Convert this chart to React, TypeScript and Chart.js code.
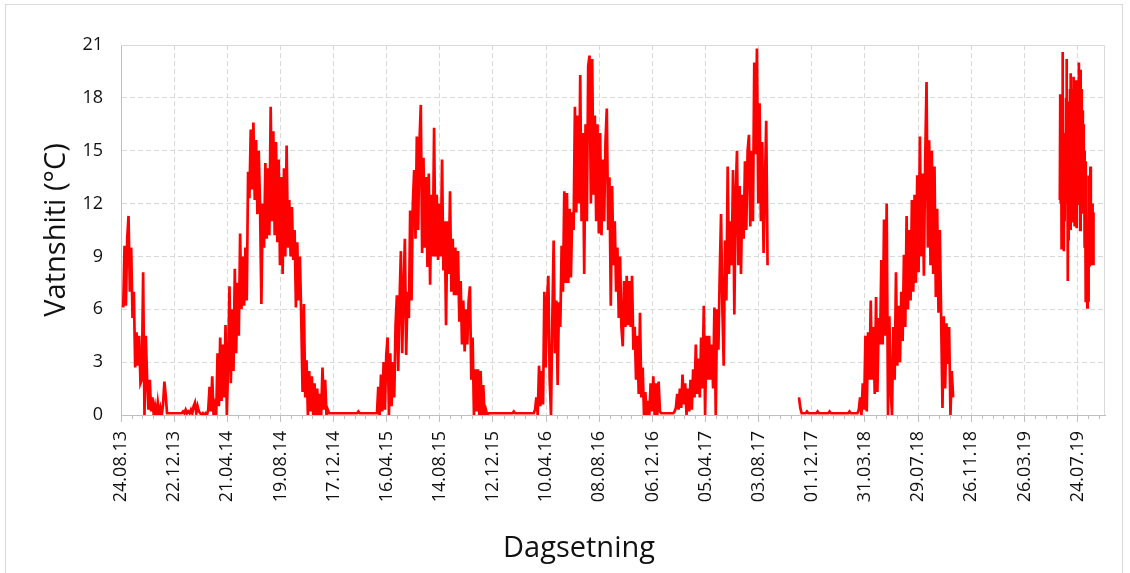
import React, { useEffect, useRef } from "react";
import { Chart, registerables } from "chart.js";

Chart.register(...registerables);

// ---- axis / text ----
const xTickLabels = [
  "24.08.13", "22.12.13", "21.04.14", "19.08.14", "17.12.14", "16.04.15", "14.08.15",
  "12.12.15", "10.04.16", "08.08.16", "06.12.16", "05.04.17", "03.08.17", "01.12.17",
  "31.03.18", "29.07.18", "26.11.18", "26.03.19", "24.07.19",
];
const X_TITLE = "Dagsetning";
const Y_TITLE = "Vatnshiti (°C)";
const AXIS_START = "2013-08-24";
const AXIS_END = "2019-09-24";
const MAJOR_STEP_DAYS = 120;
const MINOR_STEP_DAYS = 24;
const Y_MIN = 0;
const Y_MAX = 21;
const Y_STEP = 3;

// ---- measured series (°C), sampled every segmentSteps[i] days from segmentStarts[i] ----
const temps2013_2014 = [
  6.1, 9.6, 6.2, 10.0, 11.3, 7.0, 9.5, 5.5, 7.0, 2.7,
  4.7, 2.8, 4.5, 1.8, 2.0, 8.1, 0.0, 4.5, 2.0, 0.3,
  2.0, 0.2, 1.0, 0.0, 0.5, 0.0, 0.7, 0.0, 0.4, 0.0,
  0.6, 1.9, 1.1, 0.1, 0.1, 0.1, 0.1, 0.1, 0.1, 0.1,
  0.1, 0.1, 0.1, 0.1, 0.1, 0.2, 0.1, 0.3, 0.1, 0.2,
  0.1, 0.3, 0.1, 0.5, 0.7, 0.1, 0.5, 0.2, 0.1, 0.0,
  0.1, 0.0, 0.1, 0.0, 0.3, 1.6, 0.2, 2.2, 0.0, 0.5,
  0.0, 3.5, 0.5, 4.4, 0.8, 4.0, 1.0, 5.1, 0.0, 3.0,
  7.3, 1.8, 6.0, 2.5, 8.3, 3.5, 7.5, 4.5, 10.3, 6.0,
  9.0, 6.2, 9.5, 6.5, 13.8, 12.3, 16.2, 12.8, 16.6, 12.2,
  15.6, 11.4, 15.0, 11.8, 6.3, 12.0, 9.5, 14.3, 10.0, 14.0,
  10.2, 17.5, 11.0, 16.1, 10.2, 15.5, 9.8, 14.5, 8.5, 13.5,
  8.0, 14.0, 9.0, 15.3, 9.5, 12.2, 9.0, 11.8, 8.8, 10.5,
  6.1, 9.8, 6.5, 9.0, 5.5, 1.3, 6.3, 1.0, 3.1, 0.0,
  2.5, 0.2, 2.2, 0.0, 1.8, 0.0, 1.5, 0.0, 1.2, 0.0,
  2.7, 0.3, 2.0, 0.0, 0.3, 0.1,
];
const temps2015 = [
  0.1, 0.1, 0.1, 0.1, 0.1, 0.1, 0.1, 0.1, 0.1, 0.1,
  0.1, 0.1, 0.1, 0.1, 0.1, 0.1, 0.1, 0.1, 0.1, 0.1,
  0.1, 0.2, 0.1, 0.1, 0.1, 0.1, 0.1, 0.1, 0.1, 0.1,
  0.1, 0.1, 0.1, 0.1, 0.1, 0.1, 1.6, 0.0, 2.3, 0.2,
  3.0, 0.3, 3.4, 4.4, 0.0, 3.5, 0.5, 3.0, 1.0, 5.1,
  6.8, 2.5, 6.5, 9.3, 3.5, 7.0, 10.0, 3.4, 7.0, 5.5,
  11.6, 6.5, 12.0, 13.9, 10.0, 15.8, 10.5, 15.5, 17.6, 9.2,
  14.6, 9.5, 13.5, 8.4, 13.7, 7.4, 12.5, 9.0, 16.3, 9.0,
  12.5, 8.8, 12.0, 9.0, 14.5, 8.2, 11.0, 5.1, 11.0, 8.0,
  12.7, 7.0, 10.0, 6.8, 9.5, 6.8, 9.3, 5.3, 7.6, 4.0,
  6.5, 3.6, 6.0, 4.0, 6.5, 7.3, 2.0, 4.4, 0.0, 2.6,
  0.2, 2.6, 0.0, 2.5, 0.0, 1.7, 0.0, 0.3, 0.0, 0.1,
];
const temps2016 = [
  0.1, 0.1, 0.1, 0.1, 0.1, 0.1, 0.1, 0.1, 0.1, 0.1,
  0.1, 0.1, 0.1, 0.1, 0.1, 0.1, 0.1, 0.1, 0.2, 0.1,
  0.1, 0.1, 0.1, 0.1, 0.1, 0.1, 0.1, 0.1, 0.1, 0.1,
  0.1, 0.1, 0.1, 0.1, 0.3, 1.0, 0.0, 2.8, 0.5, 2.5,
  0.6, 7.0, 2.7, 6.5, 7.9, 2.0, 0.0, 5.5, 9.9, 3.5,
  6.5, 1.7, 6.4, 5.0, 9.6, 7.0, 12.7, 7.5, 12.6, 7.5,
  11.7, 7.8, 11.5, 10.5, 17.5, 11.5, 17.0, 12.0, 19.3, 11.0,
  16.0, 8.0, 16.5, 11.0, 19.8, 20.4, 12.0, 20.2, 12.5, 17.0,
  11.0, 16.5, 10.3, 16.0, 10.2, 14.5, 11.0, 15.5, 17.4, 10.5,
  13.5, 6.2, 13.0, 8.5, 11.0, 7.0, 9.5, 5.5, 9.0, 5.0,
  3.9, 7.6, 5.0, 7.9, 5.1, 7.6, 5.0, 7.9, 3.7, 5.0,
  2.0, 4.5, 1.2, 5.8, 1.0, 2.7, 0.0, 1.3, 0.0, 0.8,
  0.0, 1.8, 0.2, 2.2, 0.0, 1.8, 0.0, 1.9, 0.2, 0.1,
  0.1, 0.1, 0.1,
];
const temps2017 = [
  0.1, 0.1, 0.1, 0.1, 0.1, 0.1, 0.2, 0.4, 1.2, 0.3,
  1.5, 0.4, 2.3, 0.6, 1.8, 0.0, 1.5, 0.2, 2.0, 0.3,
  2.6, 1.0, 4.0, 1.2, 3.2, 1.0, 4.4, 1.5, 6.2, 0.0,
  4.5, 2.0, 4.5, 2.0, 4.0, 1.5, 6.1, 0.0, 6.0, 3.7,
  8.0, 11.4, 6.0, 2.8, 9.9, 6.5, 14.1, 8.0, 11.0, 8.5,
  13.9, 5.7, 12.5, 15.0, 8.5, 13.0, 8.0, 12.5, 10.0, 14.4,
  10.5, 15.0, 15.9, 10.7, 15.0, 11.0, 20.0, 14.8, 20.8, 12.0,
  17.7, 11.0, 15.5, 9.2, 13.0, 16.7, 8.5,
];
const temps2018 = [
  1.0, 0.4, 0.1, 0.1, 0.1, 0.1, 0.2, 0.1, 0.1, 0.1,
  0.1, 0.1, 0.1, 0.1, 0.2, 0.1, 0.1, 0.1, 0.1, 0.1,
  0.1, 0.1, 0.1, 0.2, 0.1, 0.1, 0.1, 0.1, 0.1, 0.1,
  0.1, 0.1, 0.1, 0.1, 0.1, 0.1, 0.1, 0.1, 0.2, 0.1,
  0.1, 0.1, 0.1, 0.1, 0.1, 0.3, 1.0, 0.0, 1.8, 0.3,
  4.5, 0.2, 4.7, 2.0, 6.5, 2.0, 5.0, 1.2, 6.7, 1.3,
  5.5, 4.0, 8.8, 4.0, 11.1, 4.5, 12.0, 0.0, 5.6, 1.5,
  0.0, 5.0, 2.0, 8.1, 2.8, 6.2, 3.0, 7.0, 4.2, 9.1,
  5.0, 11.3, 6.0, 10.5, 6.5, 12.2, 7.0, 12.5, 7.5, 13.6,
  8.1, 15.8, 9.0, 13.7, 7.9, 14.5, 18.9, 9.5, 15.6, 8.5,
  15.0, 8.0, 14.1, 6.7, 11.7, 5.8, 10.5, 5.5, 0.4, 5.6,
  1.5, 5.2, 2.9, 5.0, 0.0, 2.5, 1.0,
];
const temps2019 = [
  12.2, 18.2, 12.0, 17.5, 9.4, 16.0, 20.6, 9.5, 15.0, 9.3,
  14.5, 11.0, 16.0, 12.0, 18.0, 20.2, 12.0, 17.0, 7.6, 16.0,
  9.9, 17.8, 11.0, 18.5, 10.5, 19.4, 11.0, 18.0, 12.5, 18.5,
  13.0, 19.2, 11.9, 17.5, 10.7, 19.0, 11.5, 18.0, 10.6, 18.5,
  12.5, 19.0, 12.0, 20.0, 13.0, 18.0, 10.5, 19.6, 11.5, 18.5,
  12.0, 17.3, 12.5, 16.5, 12.0, 15.0, 9.5, 14.4, 6.4, 12.0,
  6.9, 10.5, 6.1, 9.0, 6.5, 13.6, 8.5, 12.5, 8.8, 14.1,
  8.5, 12.0, 9.0, 12.0, 8.5, 11.5, 8.5,
];
const segmentValues = [temps2013_2014, temps2015, temps2016, temps2017, temps2018, temps2019];
const segmentStarts = ["2013-08-29", "2014-12-10", "2015-12-05", "2017-01-07", "2017-11-02", "2019-06-14"];
const segmentSteps = [3, 3, 3, 3, 3, 1];

const DAY_MS = 86400000;
const dayOffset = (iso: string) =>
  Math.round((Date.parse(iso) - Date.parse(AXIS_START)) / DAY_MS);

function buildPoints() {
  const pts: { x: number; y: number | null }[] = [];
  let prevEnd = -Infinity;
  let prevStep = 0;
  segmentValues.forEach((vals, s) => {
    const start = dayOffset(segmentStarts[s]);
    const step = segmentSteps[s];
    if (pts.length && start - prevEnd > prevStep + 0.5) {
      pts.push({ x: (start + prevEnd) / 2, y: null });
    }
    vals.forEach((v, i) => pts.push({ x: start + i * step, y: v }));
    prevEnd = start + (vals.length - 1) * step;
    prevStep = step;
  });
  return pts;
}

const FONT = "'Open Sans', 'DejaVu Sans', sans-serif";

const excelDecor = {
  id: "excelDecor",
  afterDraw(chart: any) {
    const { ctx, chartArea: a, scales } = chart;
    const xs = scales.x;
    ctx.save();
    ctx.lineWidth = 1;
    ctx.strokeStyle = "#d9d9d9";
    ctx.beginPath();
    ctx.moveTo(a.left, a.top + 0.5);
    ctx.lineTo(a.right - 0.5, a.top + 0.5);
    ctx.lineTo(a.right - 0.5, a.bottom);
    ctx.stroke();
    ctx.strokeStyle = "#bfbfbf";
    for (let v = MINOR_STEP_DAYS; v < xs.max; v += MINOR_STEP_DAYS) {
      if (v % MAJOR_STEP_DAYS === 0) continue;
      const px = Math.round(xs.getPixelForValue(v)) + 0.5;
      ctx.beginPath();
      ctx.moveTo(px, a.bottom);
      ctx.lineTo(px, a.bottom + 4);
      ctx.stroke();
    }
    ctx.fillStyle = "#111";
    ctx.font = `29px ${FONT}`;
    ctx.textAlign = "center";
    ctx.textBaseline = "alphabetic";
    ctx.fillText(X_TITLE, 579, 557);
    ctx.translate(57, (a.top + a.bottom) / 2);
    ctx.rotate(-Math.PI / 2);
    ctx.textBaseline = "middle";
    ctx.fillText(Y_TITLE, 0, 0);
    ctx.restore();
  },
};

export default function App() {
  const ref = useRef<HTMLCanvasElement | null>(null);
  useEffect(() => {
    if (!ref.current) return;
    const chart = new Chart(ref.current, {
      type: "line",
      data: {
        datasets: [
          {
            label: Y_TITLE,
            data: buildPoints() as any,
            borderColor: "#ff0000",
            backgroundColor: "#ff0000",
            borderWidth: 2.7,
            pointRadius: 0,
            tension: 0,
            spanGaps: false,
            fill: false,
          },
        ],
      },
      options: {
        responsive: false,
        animation: false,
        devicePixelRatio: 1,
        layout: { padding: { left: 0, top: 45, right: 25, bottom: 0 } },
        plugins: { legend: { display: false }, tooltip: { enabled: false } },
        scales: {
          x: {
            type: "linear",
            min: 0,
            max: dayOffset(AXIS_END),
            afterFit: (s: any) => {
              s.height = 158;
            },
            ticks: {
              stepSize: MAJOR_STEP_DAYS,
              includeBounds: false,
              autoSkip: false,
              minRotation: 90,
              maxRotation: 90,
              padding: 9,
              color: "#111",
              font: { family: FONT, size: 18 },
              callback: (v: any) => {
                const i = Math.round(Number(v) / MAJOR_STEP_DAYS);
                return xTickLabels[i] ?? null;
              },
            },
            grid: { color: "#d9d9d9", tickColor: "#bfbfbf", tickLength: 7, lineWidth: 1 },
            border: { color: "#bfbfbf", dash: [5, 3] },
          },
          y: {
            min: Y_MIN,
            max: Y_MAX,
            afterFit: (s: any) => {
              s.width = 121;
            },
            ticks: {
              stepSize: Y_STEP,
              padding: 18,
              color: "#111",
              font: { family: FONT, size: 18 },
            },
            grid: { color: "#d9d9d9", drawTicks: false, lineWidth: 1 },
            border: { color: "#bfbfbf", dash: [5, 3] },
          },
        },
      },
      plugins: [excelDecor],
    });
    return () => chart.destroy();
  }, []);

  return (
    <div
      style={{
        position: "fixed",
        left: 0,
        top: 0,
        width: 1130,
        height: 573,
        background: "#fff",
        overflow: "hidden",
      }}
    >
      <canvas ref={ref} width={1130} height={573} style={{ width: 1130, height: 573, display: "block" }} />
      <div
        style={{
          position: "absolute",
          left: 5,
          top: 4,
          width: 1116,
          height: 600,
          border: "1px solid #d9d9d9",
          pointerEvents: "none",
        }}
      />
    </div>
  );
}
